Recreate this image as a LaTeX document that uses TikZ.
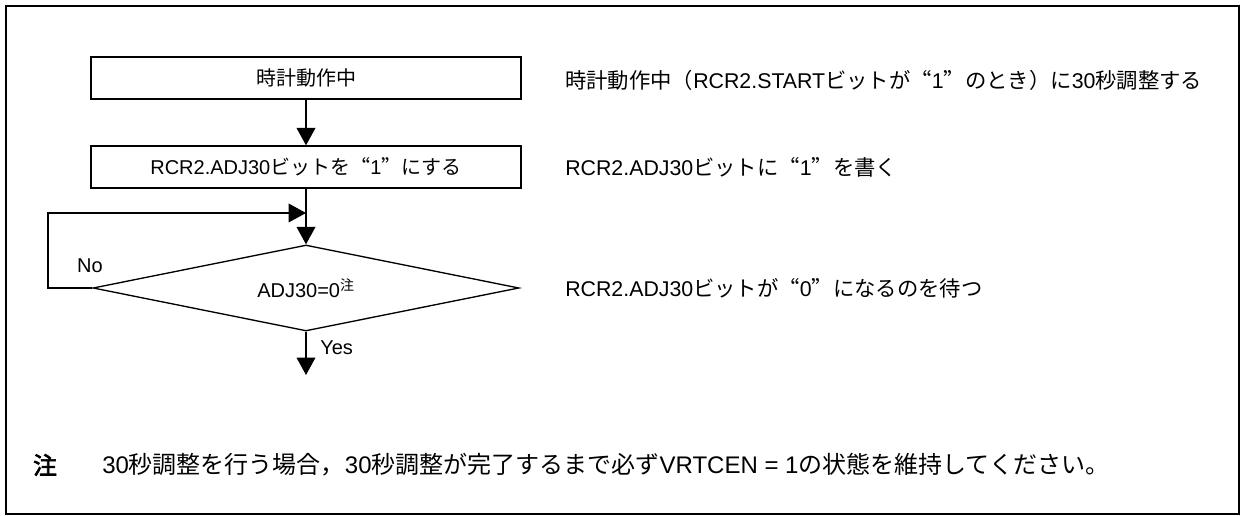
\documentclass[tikz,border=0pt]{standalone}
\usepackage{fontspec}
\setmainfont{Liberation Sans}
\newfontfamily\jpfont[RawFeature=+fwid,AutoFakeBold=2.5]{Noto Sans CJK JP}
\newcommand{\jt}[1]{{\jpfont #1}}
\newcommand{\flowfont}{\fontsize{15}{18}\selectfont}
\newcommand{\descfont}{\fontsize{16}{19}\selectfont}
\newcommand{\notefont}{\fontsize{18}{21}\selectfont}
\usetikzlibrary{arrows.meta,shapes,positioning}

\begin{document}
\begin{tikzpicture}[x=0.75pt, y=-0.75pt, >={Triangle[length=13pt,width=14pt]},
    procbox/.style={draw, line width=1pt, minimum width=322.5pt, minimum height=31.5pt, inner sep=0pt, font=\flowfont},
    decision/.style={draw, diamond, line width=1pt, aspect=5, minimum width=319.5pt, minimum height=64.5pt, inner sep=0pt, font=\flowfont},
    flow/.style={line width=1pt},
    desc/.style={anchor=west, inner sep=0pt, font=\descfont}]
    \useasboundingbox (0,0) rectangle (1242,516);
    \draw[line width=1.4pt] (6,6) rectangle (1239,514);
    \draw[line width=2pt] (6,6) -- (1239,6);

    \node[procbox] (run) at (306,78) {\jt{時計動作中}};
    \node[procbox] (set) at (306,167) {RCR2.ADJ30\jt{ビットを“}1\jt{”にする}};
    \node[decision] (chk) at (306,288) {ADJ30=0\textsuperscript{\jt{注}}};
    \coordinate (join) at (306,213);
    \coordinate (back) at (48,213);
    \coordinate (done) at (306,375);

    \draw[flow, ->] (run) -- (set);
    \draw[flow, ->] (set) -- (chk);
    \draw[flow, ->] (chk.west) -- (chk.west -| back) -- (back) -- (join);
    \draw[flow, ->] (chk.south) -- (done);

    \node[font=\flowfont] (no) at (90,266) {No};
    \node[anchor=west, inner sep=0pt, font=\flowfont] (yes) at (320,348) {Yes};

    \node[desc] (d1) at (565,80) {\jt{時計動作中（}RCR2.START\jt{ビットが“}1\jt{”のとき）に}30\jt{秒調整する}};
    \node[desc] (d2) at (565,167) {RCR2.ADJ30\jt{ビットに“}1\jt{”を書く}};
    \node[desc] (d3) at (565,288) {RCR2.ADJ30\jt{ビットが“}0\jt{”になるのを待つ}};

    % note
    \node[font=\notefont\jpfont\bfseries] (mark) at (45,465) {注};
    \node[desc, font=\notefont] (note) at (102,465) {30\jt{秒調整を行う場合，}30\jt{秒調整が完了するまで必ず}VRTCEN = 1\jt{の状態を維持してください。}};
\end{tikzpicture}
\end{document}
